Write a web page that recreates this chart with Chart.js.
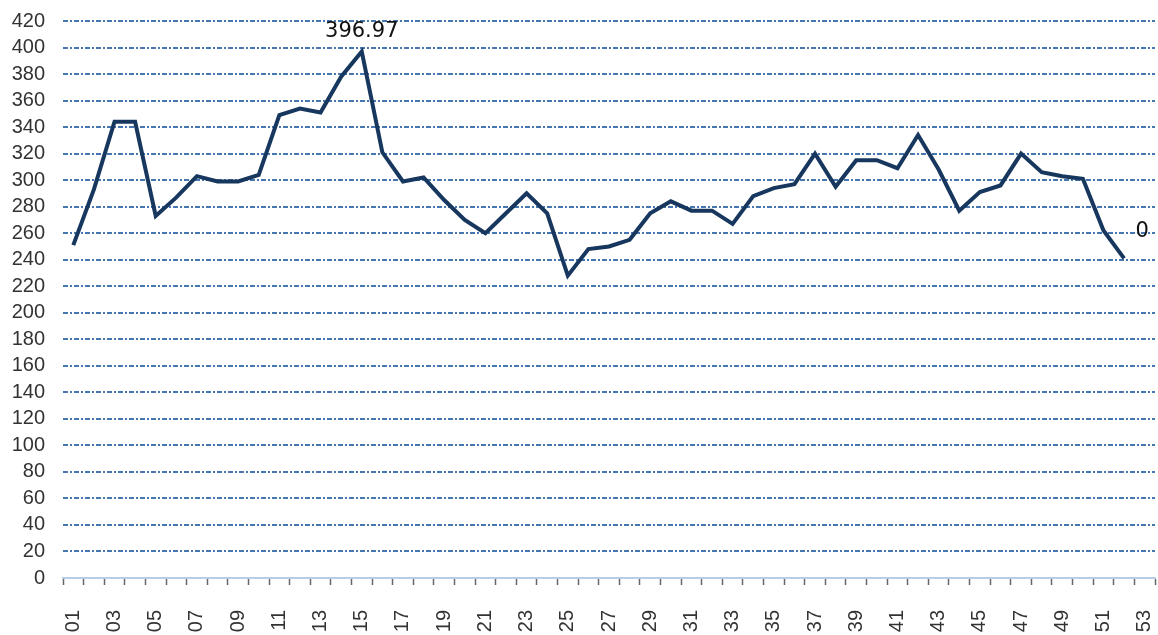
<!DOCTYPE html>
<html>
<head>
<meta charset="utf-8">
<script src="https://cdn.jsdelivr.net/npm/chart.js@4/dist/chart.umd.min.js"></script>
<style>
  html, body { margin: 0; padding: 0; background: #fff; overflow: hidden; }
</style>
</head>
<body>
<canvas id="myChart" width="1158" height="635"></canvas>
<script>
// week numbers on the x axis
const weeks = ['01','02','03','04','05','06','07','08','09','10',
               '11','12','13','14','15','16','17','18','19','20',
               '21','22','23','24','25','26','27','28','29','30',
               '31','32','33','34','35','36','37','38','39','40',
               '41','42','43','44','45','46','47','48','49','50',
               '51','52','53'];
// weekly values
const values = [251, 293, 344, 344, 273, 287, 303, 299, 299, 304,
                349, 354, 351, 378, 396.97, 321, 299, 302, 285, 270,
                260, 275, 290, 275, 228, 248, 250, 255, 275, 284,
                277, 277, 267, 288, 294, 297, 320, 295, 315, 315,
                309, 334, 308, 277, 291, 296, 320, 306, 303, 301,
                262, 241];
// data labels shown on the chart
const labelIndex = [14, 51];
const labelText = ['396.97', '0'];

// draw the two data labels
const pointLabels = {
    id: 'pointLabels',
    afterDatasetsDraw(chart) {
        const ctx = chart.ctx;
        const meta = chart.getDatasetMeta(0);
        ctx.save();
        ctx.font = '21px "DejaVu Sans"';
        ctx.fillStyle = '#111';
        ctx.textAlign = 'center';
        ctx.textBaseline = 'middle';
        labelIndex.forEach((idx, k) => {
            const pt = meta.data[idx];
            if (k === 0) {
                ctx.fillText(labelText[k], pt.x, pt.y - 20);
            } else {
                ctx.fillText(labelText[k], pt.x + 18, pt.y - 27);
            }
        });
        ctx.restore();
    }
};

const ctx = document.getElementById('myChart').getContext('2d');
const myChart = new Chart(ctx, {
    type: 'line',
    data: {
        labels: weeks,
        datasets: [{
            data: values,
            borderColor: '#17375e',
            borderWidth: 4,
            pointRadius: 0,
            tension: 0,
            fill: false
        }]
    },
    options: {
        responsive: false,
        animation: false,
        layout: {
            padding: { top: 21, right: 3, left: 0, bottom: 0 }
        },
        plugins: {
            legend: { display: false },
            tooltip: { enabled: false }
        },
        scales: {
            x: {
                offset: true,
                grid: {
                    offset: true,
                    drawOnChartArea: false,
                    tickLength: 7,
                    tickColor: '#666',
                    tickWidth: 1.5
                },
                border: { display: true, color: '#b7cde6', width: 2 },
                ticks: {
                    autoSkip: false,
                    minRotation: 90,
                    maxRotation: 90,
                    padding: 25,
                    color: '#333',
                    font: { family: '"Liberation Sans", Arial', size: 20 },
                    callback: function (val, i) {
                        return i % 2 === 0 ? weeks[i] : '';
                    }
                },
                afterFit: function (scale) {
                    scale.height = 57;
                    scale.paddingLeft = 0;
                    scale.paddingRight = 0;
                }
            },
            y: {
                min: 0,
                max: 420,
                grid: {
                    drawTicks: false,
                    color: '#4677b0',
                    lineWidth: 2
                },
                border: { display: false, dash: [5, 2, 2, 2] },
                ticks: {
                    stepSize: 20,
                    autoSkip: false,
                    maxTicksLimit: 50,
                    padding: 18,
                    color: '#333',
                    font: { family: '"Liberation Sans", Arial', size: 20 }
                },
                afterFit: function (scale) {
                    scale.width = 63;
                    scale.paddingTop = 0;
                    scale.paddingBottom = 0;
                }
            }
        }
    },
    plugins: [pointLabels]
});
</script>
</body>
</html>
